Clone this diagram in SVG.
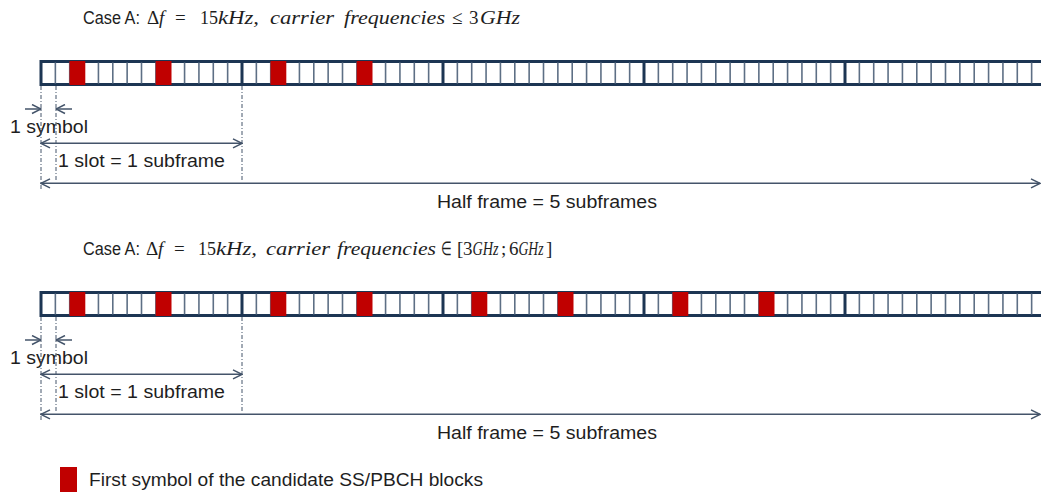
<svg xmlns="http://www.w3.org/2000/svg" xmlns:xlink="http://www.w3.org/1999/xlink" width="1041" height="492" viewBox="0 0 1041 492">
<style>
.sans{font-family:"Liberation Sans",Arial,sans-serif;font-size:17.5px;fill:#1e1e1e}
.m{font-family:"Liberation Serif","Times New Roman",serif;font-size:19px;fill:#1e1e1e}
.mi{font-family:"Liberation Serif","Times New Roman",serif;font-size:19px;font-style:italic;fill:#1e1e1e}
.frame{fill:#ffffff;stroke:#1c3553;stroke-width:3}
.div{stroke:#5d6f85;stroke-width:1.6}
.sfb{stroke:#1c3553;stroke-width:3}
.ss{fill:#c00000}
.dim{stroke:#44546a;stroke-width:1.5;fill:none}
.dash{stroke:#44546a;stroke-width:1;stroke-dasharray:4 2 1 2;fill:none}
</style>
<defs>
<marker id="chev" viewBox="0 0 11 11" markerWidth="11" markerHeight="11" markerUnits="userSpaceOnUse" refX="10" refY="5.5" orient="auto-start-reverse">
<path d="M1,1 L10,5.5 L1,10" fill="none" stroke="#44546a" stroke-width="1.5"/>
</marker>
<g id="sf">
<line class="div" x1="14.36" y1="62.5" x2="14.36" y2="83.5"/>
<line class="div" x1="28.71" y1="62.5" x2="28.71" y2="83.5"/>
<line class="div" x1="43.07" y1="62.5" x2="43.07" y2="83.5"/>
<line class="div" x1="57.43" y1="62.5" x2="57.43" y2="83.5"/>
<line class="div" x1="71.79" y1="62.5" x2="71.79" y2="83.5"/>
<line class="div" x1="86.14" y1="62.5" x2="86.14" y2="83.5"/>
<line class="div" x1="100.5" y1="62.5" x2="100.5" y2="83.5"/>
<line class="div" x1="114.86" y1="62.5" x2="114.86" y2="83.5"/>
<line class="div" x1="129.21" y1="62.5" x2="129.21" y2="83.5"/>
<line class="div" x1="143.57" y1="62.5" x2="143.57" y2="83.5"/>
<line class="div" x1="157.93" y1="62.5" x2="157.93" y2="83.5"/>
<line class="div" x1="172.29" y1="62.5" x2="172.29" y2="83.5"/>
<line class="div" x1="186.64" y1="62.5" x2="186.64" y2="83.5"/>
</g>
<g id="barbase">
<rect class="frame" x="41" y="61.5" width="1005" height="23"/>
<use xlink:href="#sf" x="41"/>
<use xlink:href="#sf" x="242"/>
<use xlink:href="#sf" x="443"/>
<use xlink:href="#sf" x="644"/>
<use xlink:href="#sf" x="845"/>
<line class="sfb" x1="242" y1="61.5" x2="242" y2="84.5"/>
<line class="sfb" x1="443" y1="61.5" x2="443" y2="84.5"/>
<line class="sfb" x1="644" y1="61.5" x2="644" y2="84.5"/>
<line class="sfb" x1="845" y1="61.5" x2="845" y2="84.5"/>
</g>
</defs>

<g id="title1">
<text y="24"><tspan class="sans" x="83" textLength="57" lengthAdjust="spacingAndGlyphs">Case A:</tspan><tspan class="m" x="147">Δ</tspan><tspan class="mi" x="159">f</tspan><tspan class="m" x="175">=</tspan><tspan class="m" x="200" textLength="18" lengthAdjust="spacingAndGlyphs">15</tspan><tspan class="mi" x="218" textLength="41" lengthAdjust="spacingAndGlyphs">kHz,</tspan><tspan class="mi" x="270" textLength="64" lengthAdjust="spacingAndGlyphs">carrier</tspan><tspan class="mi" x="344" textLength="101" lengthAdjust="spacingAndGlyphs">frequencies</tspan><tspan class="m" x="452">≤</tspan><tspan class="m" x="469">3</tspan><tspan class="mi" x="480" textLength="40" lengthAdjust="spacingAndGlyphs">GHz</tspan></text>
</g>

<g id="bar1">
<use xlink:href="#barbase"/>
<rect class="ss" x="69.5" y="61" width="15.8" height="24"/>
<rect class="ss" x="155.7" y="61" width="15.8" height="24"/>
<rect class="ss" x="270.5" y="61" width="15.8" height="24"/>
<rect class="ss" x="356.7" y="61" width="15.8" height="24"/>
</g>

<g id="labels1">
<text class="sans" x="10" y="133" textLength="78" lengthAdjust="spacingAndGlyphs">1 symbol</text>
<text class="sans" x="58" y="167" textLength="167" lengthAdjust="spacingAndGlyphs">1 slot = 1 subframe</text>
<text class="sans" x="437" y="208" textLength="220" lengthAdjust="spacingAndGlyphs">Half frame = 5 subframes</text>
</g>

<g id="title2">
<text y="255"><tspan class="sans" x="83" textLength="57" lengthAdjust="spacingAndGlyphs">Case A:</tspan><tspan class="m" x="146">Δ</tspan><tspan class="mi" x="158">f</tspan><tspan class="m" x="174">=</tspan><tspan class="m" x="198" textLength="18" lengthAdjust="spacingAndGlyphs">15</tspan><tspan class="mi" x="216" textLength="41" lengthAdjust="spacingAndGlyphs">kHz,</tspan><tspan class="mi" x="266" textLength="64" lengthAdjust="spacingAndGlyphs">carrier</tspan><tspan class="mi" x="337" textLength="99" lengthAdjust="spacingAndGlyphs">frequencies</tspan><tspan class="m" x="441" textLength="11" lengthAdjust="spacingAndGlyphs">∈</tspan><tspan class="m" x="457">[</tspan><tspan class="m" x="463">3</tspan><tspan class="mi" x="472.5" textLength="26" lengthAdjust="spacingAndGlyphs">GHz</tspan><tspan class="m" x="501">;</tspan><tspan class="m" x="509">6</tspan><tspan class="mi" x="518.5" textLength="25" lengthAdjust="spacingAndGlyphs">GHz</tspan><tspan class="m" x="546">]</tspan></text>
</g>

<g id="bar2" transform="translate(0,231)">
<use xlink:href="#barbase"/>
<rect class="ss" x="69.5" y="61" width="15.8" height="24"/>
<rect class="ss" x="155.7" y="61" width="15.8" height="24"/>
<rect class="ss" x="270.5" y="61" width="15.8" height="24"/>
<rect class="ss" x="356.7" y="61" width="15.8" height="24"/>
<rect class="ss" x="471.5" y="61" width="15.8" height="24"/>
<rect class="ss" x="557.7" y="61" width="15.8" height="24"/>
<rect class="ss" x="672.5" y="61" width="15.8" height="24"/>
<rect class="ss" x="758.7" y="61" width="15.8" height="24"/>
</g>

<g id="labels2">
<text class="sans" x="10" y="364" textLength="78" lengthAdjust="spacingAndGlyphs">1 symbol</text>
<text class="sans" x="58" y="398" textLength="167" lengthAdjust="spacingAndGlyphs">1 slot = 1 subframe</text>
<text class="sans" x="437" y="439" textLength="220" lengthAdjust="spacingAndGlyphs">Half frame = 5 subframes</text>
</g>

<g id="connectors">
<g id="dims1">
<line class="dash" x1="41" y1="86" x2="41" y2="190"/>
<line class="dash" x1="56" y1="86" x2="56" y2="180"/>
<line class="dash" x1="242" y1="86" x2="242" y2="180"/>
<line class="dim" x1="25" y1="109" x2="41" y2="109" marker-end="url(#chev)"/>
<line class="dim" x1="72" y1="109" x2="56" y2="109" marker-end="url(#chev)"/>
<line class="dim" x1="41" y1="143.3" x2="242" y2="143.3" marker-start="url(#chev)" marker-end="url(#chev)"/>
<line class="dim" x1="41" y1="183.3" x2="1040" y2="183.3" marker-start="url(#chev)" marker-end="url(#chev)"/>
</g>
<g id="dims2" transform="translate(0,231)">
<line class="dash" x1="41" y1="86" x2="41" y2="190"/>
<line class="dash" x1="56" y1="86" x2="56" y2="180"/>
<line class="dash" x1="242" y1="86" x2="242" y2="180"/>
<line class="dim" x1="25" y1="109" x2="41" y2="109" marker-end="url(#chev)"/>
<line class="dim" x1="72" y1="109" x2="56" y2="109" marker-end="url(#chev)"/>
<line class="dim" x1="41" y1="143.3" x2="242" y2="143.3" marker-start="url(#chev)" marker-end="url(#chev)"/>
<line class="dim" x1="41" y1="183.3" x2="1040" y2="183.3" marker-start="url(#chev)" marker-end="url(#chev)"/>
</g>
</g>

<g id="legend">
<rect class="ss" x="60" y="467" width="17" height="25"/>
<text class="sans" x="89" y="486" textLength="394" lengthAdjust="spacingAndGlyphs">First symbol of the candidate SS/PBCH blocks</text>
</g>
</svg>
